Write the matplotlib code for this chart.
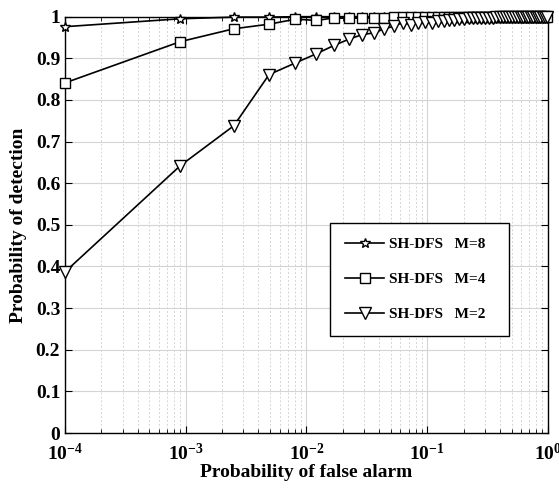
import matplotlib.pyplot as plt
from matplotlib.ticker import FixedLocator, FixedFormatter, NullFormatter

plt.rcParams['font.family'] = ['Liberation Serif', 'DejaVu Serif']
plt.rcParams['font.weight'] = 'bold'
plt.rcParams['mathtext.fontset'] = 'custom'
plt.rcParams['mathtext.rm'] = 'Liberation Serif:bold'
plt.rcParams['mathtext.bf'] = 'Liberation Serif:bold'

# false alarm probabilities
pfa = [0.0001, 0.0009, 0.0025, 0.0049, 0.0081, 0.0121, 0.0169, 0.0225, 0.0289, 0.0361,
       0.0441, 0.0529, 0.0625, 0.0729, 0.0841, 0.0961, 0.1089, 0.1225, 0.1369, 0.1521,
       0.1681, 0.1849, 0.2025, 0.2209, 0.2401, 0.2601, 0.2809, 0.3025, 0.3249, 0.3481,
       0.3721, 0.3969, 0.4225, 0.4489, 0.4761, 0.5041, 0.5329, 0.5625, 0.5929, 0.6241,
       0.6561, 0.6889, 0.7225, 0.7569, 0.7921, 0.8281, 0.8649, 0.9025, 0.9409, 0.9801]

pd_m8 = [0.976, 0.995, 0.999, 0.999, 1.0, 1.0, 1.0, 1.0, 1.0, 1.0,
         1.0, 1.0, 1.0, 1.0, 1.0, 1.0, 1.0, 1.0, 1.0, 1.0,
         1.0, 1.0, 1.0, 1.0, 1.0, 1.0, 1.0, 1.0, 1.0, 1.0,
         1.0, 1.0, 1.0, 1.0, 1.0, 1.0, 1.0, 1.0, 1.0, 1.0,
         1.0, 1.0, 1.0, 1.0, 1.0, 1.0, 1.0, 1.0, 1.0, 1.0]

pd_m4 = [0.841, 0.940, 0.971, 0.982, 0.994, 0.991, 0.997, 0.996, 0.997, 0.997,
         0.998, 0.999, 1.0, 1.0, 1.0, 1.0, 1.0, 1.0, 1.0, 1.0,
         1.0, 1.0, 1.0, 1.0, 1.0, 1.0, 1.0, 1.0, 1.0, 1.0,
         1.0, 1.0, 1.0, 1.0, 1.0, 1.0, 1.0, 1.0, 1.0, 1.0,
         1.0, 1.0, 1.0, 1.0, 1.0, 1.0, 1.0, 1.0, 1.0, 1.0]

pd_m2 = [0.387, 0.642, 0.738, 0.861, 0.889, 0.911, 0.931, 0.946, 0.957, 0.961,
         0.971, 0.977, 0.986, 0.981, 0.984, 0.987, 0.986, 0.989, 0.990, 0.992,
         0.993, 0.994, 0.995, 0.996, 0.996, 0.997, 0.997, 0.998, 0.998, 0.998,
         0.999, 0.999, 0.999, 0.999, 1.0, 1.0, 1.0, 1.0, 1.0, 1.0,
         1.0, 1.0, 1.0, 1.0, 1.0, 1.0, 1.0, 1.0, 1.0, 1.0]

labels = ['SH-DFS   M=8', 'SH-DFS   M=4', 'SH-DFS   M=2']

x_ticks = [1e-4, 1e-3, 1e-2, 1e-1, 1e0]
x_ticklabels = [r'$\mathbf{10^{-4}}$', r'$\mathbf{10^{-3}}$', r'$\mathbf{10^{-2}}$',
                r'$\mathbf{10^{-1}}$', r'$\mathbf{10^{0}}$']
y_ticks = [0, 0.1, 0.2, 0.3, 0.4, 0.5, 0.6, 0.7, 0.8, 0.9, 1.0]
y_ticklabels = ['0', '0.1', '0.2', '0.3', '0.4', '0.5', '0.6', '0.7', '0.8', '0.9', '1']

fig = plt.figure(figsize=(5.59, 4.88), dpi=100)
ax = fig.add_axes([0.1163, 0.1127, 0.8640, 0.8531])

ax.semilogx(pfa, pd_m8, '-', color='black', lw=1.2, marker='*', ms=7,
            mfc='white', mec='black', mew=1, label=labels[0], clip_on=False, zorder=3)
ax.semilogx(pfa, pd_m4, '-', color='black', lw=1.2, marker='s', ms=6.5,
            mfc='white', mec='black', mew=1, label=labels[1], clip_on=False, zorder=3)
ax.semilogx(pfa, pd_m2, '-', color='black', lw=1.2, marker='v', ms=8,
            mfc='white', mec='black', mew=1, label=labels[2], clip_on=False, zorder=3)

ax.set_xlim(1e-4, 1)
ax.set_ylim(0, 1)
ax.xaxis.set_major_locator(FixedLocator(x_ticks))
ax.xaxis.set_major_formatter(FixedFormatter(x_ticklabels))
ax.xaxis.set_minor_formatter(NullFormatter())
ax.yaxis.set_major_locator(FixedLocator(y_ticks))
ax.yaxis.set_major_formatter(FixedFormatter(y_ticklabels))

ax.grid(True, which='major', color='#d4d4d4', lw=0.8, ls='-')
ax.grid(True, which='minor', axis='x', color='#d4d4d4', lw=0.7, ls=(0, (2, 2)))
ax.set_axisbelow(True)

ax.tick_params(which='both', direction='in', top=True, right=True, labelsize=14)
ax.tick_params(which='major', length=5)
ax.tick_params(which='minor', length=3)
ax.tick_params(axis='x', pad=7)
for sp in ax.spines.values():
    sp.set_color('black')
    sp.set_linewidth(1)

ax.set_xlabel('Probability of false alarm', fontsize=14, fontweight='bold', labelpad=0)
ax.set_ylabel('Probability of detection', fontsize=14, fontweight='bold', labelpad=6)

leg = ax.legend(loc='upper left', bbox_to_anchor=(0.549, 0.505, 0.37, 0.0), mode='expand',
                fancybox=False, edgecolor='black', framealpha=1, fontsize=11,
                handlelength=2.6, handletextpad=0.3, labelspacing=1.4,
                borderpad=0.95, borderaxespad=0)
leg.get_frame().set_linewidth(1)

fig.savefig('out.png', dpi=100)
